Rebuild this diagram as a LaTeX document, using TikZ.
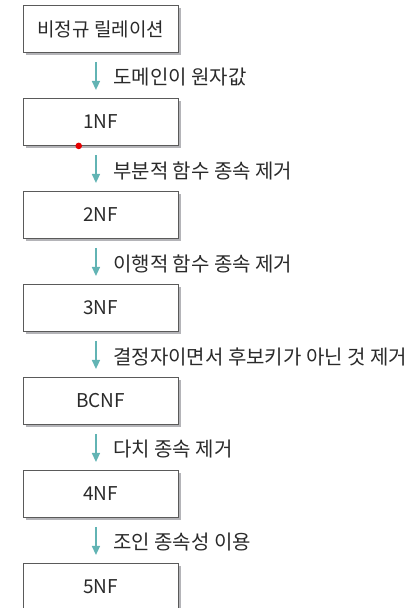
\documentclass[tikz,border=0pt]{standalone}
\usepackage{fontspec}
\setmainfont{Noto Sans CJK KR}
\usetikzlibrary{shadows,arrows.meta}
\definecolor{boxline}{HTML}{5A5A5A}
\definecolor{shadowgray}{HTML}{B4B4B8}
\definecolor{arrowteal}{HTML}{62B4B4}
\definecolor{txt}{HTML}{2A2A2A}
\tikzset{
  nfbox/.style={draw=boxline, line width=0.9pt, fill=white, minimum width=154.5pt, minimum height=47pt,
    inner sep=0pt, anchor=north west, text=txt, font=\fontsize{19}{22}\selectfont,
    drop shadow={shadow xshift=3pt, shadow yshift=-3pt, fill=shadowgray, opacity=1}},
  steparrow/.style={draw=arrowteal, line width=1.4pt, -{Triangle[length=9pt,width=8pt]},
    shorten <=9pt, shorten >=8pt},
  steplabel/.style={anchor=west, text=txt, inner sep=0pt, font=\fontsize{20}{24}\selectfont}
}
\begin{document}
\begin{tikzpicture}[x=1pt,y=1pt]
\useasboundingbox (0,0) rectangle (416,608);
\foreach \i/\t in {0/비정규 릴레이션,1/1NF,2/2NF,3/3NF,4/BCNF,5/4NF,6/5NF}{
  \node[nfbox] (b\i) at (23,{608-5-93*\i}) {\t};
}
\foreach \i/\j/\t in {0/1/도메인이 원자값,1/2/부분적 함수 종속 제거,2/3/이행적 함수 종속 제거,3/4/결정자이면서 후보키가 아닌 것 제거,4/5/다치 종속 제거,5/6/조인 종속성 이용}{
  \draw[steparrow] ([xshift=-4.75pt]b\i.south) -- ([xshift=-4.75pt]b\j.north);
  \node[steplabel] (l\i) at (113,{608-77.5-93*\i}) {\t};
}
\fill[red!90!black] ([xshift=-22pt]b1.south) circle (3.3pt);
\end{tikzpicture}
\end{document}
